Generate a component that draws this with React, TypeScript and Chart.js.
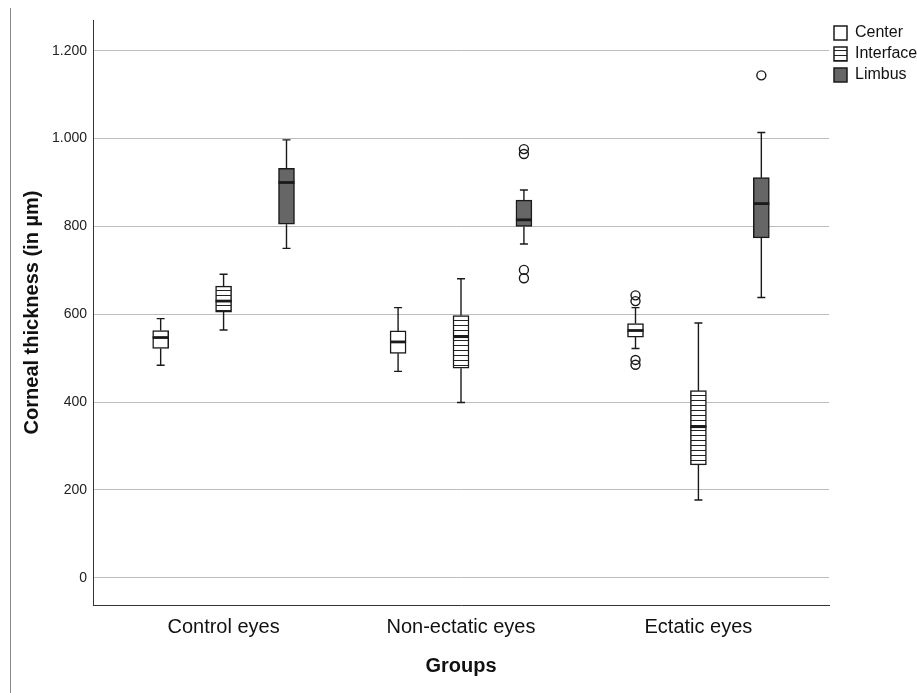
import React, { useEffect, useRef } from 'react';
import { Chart, registerables } from 'chart.js';

Chart.register(...registerables);

// ---- data ----
const groups = ['Control eyes', 'Non-ectatic eyes', 'Ectatic eyes'];
const seriesNames = ['Center', 'Interface', 'Limbus'];
// five-number summaries per group: [lower whisker, Q1, median, Q3, upper whisker]
const centerBoxes = [
  [484, 522, 547, 563, 590],
  [470, 511, 537, 562, 615],
  [522, 548, 563, 579, 615],
];
const interfaceBoxes = [
  [564, 605, 630, 664, 691],
  [399, 477, 549, 597, 681],
  [177, 257, 344, 426, 580],
];
const limbusBoxes = [
  [750, 805, 900, 932, 997],
  [760, 800, 815, 860, 883],
  [638, 774, 852, 911, 1014],
];
const centerOutliers = [[], [], [643, 630, 496, 485]];
const interfaceOutliers = [[], [], []];
const limbusOutliers = [[], [976, 965, 701, 682], [1144]];
const yTickValues = [0, 200, 400, 600, 800, 1000, 1200];
const yTickLabels = ['0', '200', '400', '600', '800', '1.000', '1.200'];

// ---- layout / style constants ----
const SERIES_OFFSET = [-0.265, 0, 0.265];
const FONT = "'Liberation Sans', Arial, Helvetica, sans-serif";
const INK = '#1a1a1a';

const boxSets = [centerBoxes, interfaceBoxes, limbusBoxes];
const outlierSets = [centerOutliers, interfaceOutliers, limbusOutliers];

const whiskerPlugin = {
  id: 'whiskers',
  afterDatasetsDraw(chart: any) {
    const ctx = chart.ctx;
    const y = chart.scales.y;
    boxSets.forEach((boxes, si) => {
      const meta = chart.getDatasetMeta(si);
      boxes.forEach((s, gi) => {
        const el = meta.data[gi];
        if (!el) return;
        const cx = el.x;
        const w = el.width;
        const pMin = y.getPixelForValue(s[0]);
        const pQ1 = y.getPixelForValue(s[1]);
        const pMed = y.getPixelForValue(s[2]);
        const pQ3 = y.getPixelForValue(s[3]);
        const pMax = y.getPixelForValue(s[4]);
        ctx.save();
        ctx.strokeStyle = INK;
        ctx.lineWidth = 1.4;
        ctx.beginPath();
        ctx.moveTo(cx, pQ3);
        ctx.lineTo(cx, pMax);
        ctx.moveTo(cx, pQ1);
        ctx.lineTo(cx, pMin);
        ctx.moveTo(cx - 4, pMax);
        ctx.lineTo(cx + 4, pMax);
        ctx.moveTo(cx - 4, pMin);
        ctx.lineTo(cx + 4, pMin);
        ctx.stroke();
        ctx.lineWidth = 2.8;
        ctx.beginPath();
        ctx.moveTo(cx - w / 2, pMed);
        ctx.lineTo(cx + w / 2, pMed);
        ctx.stroke();
        ctx.restore();
      });
    });
  },
};

export default function App() {
  const ref = useRef<HTMLCanvasElement>(null);

  useEffect(() => {
    const canvas = ref.current;
    if (!canvas) return;
    const ctx = canvas.getContext('2d')!;

    const pc = document.createElement('canvas');
    pc.width = 10;
    pc.height = 5;
    const pctx = pc.getContext('2d')!;
    pctx.fillStyle = '#ffffff';
    pctx.fillRect(0, 0, 10, 5);
    pctx.fillStyle = '#222222';
    pctx.fillRect(0, 0, 10, 1);
    const hatch = ctx.createPattern(pc, 'repeat');

    const fills: any[] = ['#ffffff', hatch, '#666666'];

    const barSets: any[] = boxSets.map((boxes, si) => ({
      type: 'bar',
      label: seriesNames[si],
      data: boxes.map((s, gi) => ({ x: gi + 1 + SERIES_OFFSET[si], y: [s[1], s[3]] })),
      backgroundColor: fills[si],
      borderColor: INK,
      borderWidth: 1.5,
      borderSkipped: false,
      barThickness: 16,
      maxBarThickness: 16,
      grouped: false,
      order: 2,
    }));
    const outSets: any[] = outlierSets.map((o, si) => ({
      type: 'scatter',
      label: seriesNames[si] + ' outliers',
      data: o.flatMap((vals, gi) => vals.map((v) => ({ x: gi + 1 + SERIES_OFFSET[si], y: v }))),
      pointRadius: 4.5,
      pointBackgroundColor: 'rgba(255,255,255,0)',
      pointBorderColor: INK,
      pointBorderWidth: 1.4,
      showLine: false,
      order: 1,
    }));

    const chart = new Chart(ctx, {
      type: 'bar',
      data: { datasets: [...barSets, ...outSets] },
      options: {
        responsive: false,
        animation: false,
        events: [],
        layout: { padding: { top: 20, left: 0, right: 0, bottom: 0 } },
        plugins: {
          tooltip: { enabled: false },
          legend: {
            position: 'right',
            align: 'start',
            maxWidth: 88,
            labels: {
              boxWidth: 13,
              boxHeight: 14,
              padding: 5,
              color: '#111',
              font: { family: FONT, size: 16 },
              filter: (item: any) => item.datasetIndex < 3,
            },
          },
        },
        scales: {
          x: {
            type: 'linear',
            min: 0.45,
            max: 3.55,
            offset: false,
            grid: { display: false, drawTicks: false, offset: false },
            border: { display: true, color: '#333', width: 1 },
            afterBuildTicks: (s: any) => {
              s.ticks = groups.map((_, i) => ({ value: i + 1 }));
            },
            afterFit: (s: any) => {
              s.height = 88;
            },
            ticks: {
              padding: 10,
              color: '#111',
              font: { family: FONT, size: 20 },
              callback: (v: any) => groups[Math.round(Number(v)) - 1] ?? '',
            },
            title: {
              display: true,
              text: 'Groups',
              color: '#111',
              font: { family: FONT, size: 20, weight: 'bold' },
              padding: { top: 0, bottom: 15 },
            },
          },
          y: {
            type: 'linear',
            min: -62,
            max: 1270,
            grid: { color: '#bdbdbd', lineWidth: 1, drawTicks: false },
            border: { display: true, color: '#333', width: 1 },
            afterBuildTicks: (s: any) => {
              s.ticks = yTickValues.map((v) => ({ value: v }));
            },
            afterFit: (s: any) => {
              s.width = 93;
            },
            ticks: {
              padding: 6,
              color: '#222',
              font: { family: FONT, size: 14 },
              callback: (v: any) => {
                const i = yTickValues.indexOf(Number(v));
                return i >= 0 ? yTickLabels[i] : '';
              },
            },
            title: {
              display: true,
              text: 'Corneal thickness (in µm)',
              color: '#111',
              font: { family: FONT, size: 20, weight: 'bold' },
              padding: { top: 20, bottom: 0 },
            },
          },
        },
      } as any,
      plugins: [whiskerPlugin],
    });
    return () => chart.destroy();
  }, []);

  return (
    <div style={{ position: 'fixed', left: 0, top: 0, width: 917, height: 693, background: '#fff' }}>
      <div style={{ position: 'absolute', left: 10, top: 8, width: 1, height: 685, background: '#8a8a8a' }} />
      <canvas ref={ref} width={917} height={693} style={{ position: 'absolute', left: 0, top: 0 }} />
    </div>
  );
}
